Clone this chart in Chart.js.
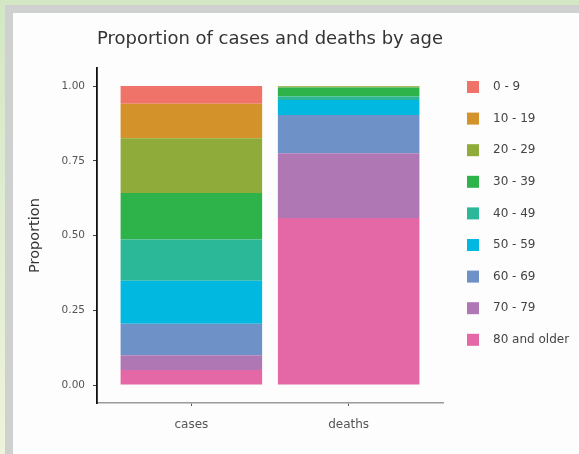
<!DOCTYPE html>
<html>
<head>
<meta charset="utf-8">
<script src="https://cdn.jsdelivr.net/npm/chart.js@4.4.1/dist/chart.umd.min.js"></script>
<style>
  html, body { margin: 0; padding: 0; }
  body {
    width: 579px; height: 454px; overflow: hidden; position: relative;
    background: linear-gradient(to bottom, #d3e7c5, #eef3dc);
  }
  #frame {
    position: absolute; left: 5px; top: 5px; right: 0; bottom: 0;
    border-left: 8px solid #cfd1d0; border-top: 8px solid #cfd1d0;
    background: #fdfdfd;
  }
  #chart { position: absolute; left: 0; top: 0; }
</style>
</head>
<body>
<div id="frame"><canvas id="chart" width="566" height="441"></canvas></div>
<script>
const groups = ['0 - 9', '10 - 19', '20 - 29', '30 - 39', '40 - 49', '50 - 59', '60 - 69', '70 - 79', '80 and older'];
const colors = ['#f0736a', '#d4922a', '#8fab3a', '#2db34a', '#2ab898', '#00b8e0', '#6e92c8', '#b077b5', '#e468a5'];
const categories = ['cases', 'deaths'];
const casesShare = [0.059, 0.116, 0.183, 0.155, 0.138, 0.144, 0.105, 0.05, 0.05];
const deathsShare = [0, 0.001, 0.004, 0.03, 0.012, 0.05, 0.128, 0.216, 0.559];
const yTicks = [0, 0.25, 0.5, 0.75, 1];

const font = '"DejaVu Sans", sans-serif';

// legend drawn beside the plot, in ggplot order (first group on top)
const sideLegend = {
    id: 'sideLegend',
    afterDraw(chart) {
        const ctx = chart.ctx;
        ctx.save();
        ctx.font = '12px ' + font;
        ctx.textBaseline = 'middle';
        groups.forEach((g, i) => {
            const y = 74 + i * 31.6;
            ctx.fillStyle = colors[i];
            ctx.fillRect(454, y - 6, 12, 12);
            ctx.fillStyle = '#444';
            ctx.fillText(g, 480, y);
        });
        ctx.restore();
    }
};

const datasets = groups.map((g, i) => ({
    label: g,
    data: categories.map((c, j) => ({ x: j + 1, y: (j === 0 ? casesShare : deathsShare)[i] })),
    backgroundColor: colors[i],
    borderWidth: 0,
    barPercentage: 0.9,
    categoryPercentage: 1
})).reverse();

const ctx = document.getElementById('chart').getContext('2d');
new Chart(ctx, {
    type: 'bar',
    data: { datasets },
    plugins: [sideLegend],
    options: {
        responsive: false,
        animation: false,
        layout: { padding: { top: 0, right: 136, bottom: 0, left: 0 } },
        plugins: {
            legend: { display: false },
            tooltip: { enabled: false },
            title: {
                display: true,
                text: 'Proportion of cases and deaths by age',
                fullSize: false,
                color: '#333',
                font: { family: font, size: 18.4, weight: 'normal' },
                padding: { top: 15, bottom: 18 }
            }
        },
        scales: {
            x: {
                type: 'linear',
                stacked: true,
                offset: false,
                min: 0.4,
                max: 2.6,
                afterBuildTicks: scale => { scale.ticks = categories.map((c, j) => ({ value: j + 1 })); },
                afterFit: scale => { scale.height = 51; },
                ticks: {
                    callback: v => categories[v - 1],
                    color: '#555',
                    font: { family: font, size: 12 },
                    padding: 12
                },
                grid: { offset: false, drawOnChartArea: false, drawTicks: true, tickLength: 3, color: '#555' },
                border: { display: true, color: '#9a9a9a', width: 1.5 }
            },
            y: {
                stacked: true,
                min: -0.06,
                max: 1.06,
                afterBuildTicks: scale => { scale.ticks = yTicks.map(v => ({ value: v })); },
                afterFit: scale => { scale.width = 84; },
                ticks: {
                    callback: v => v.toFixed(2),
                    color: '#555',
                    font: { family: font, size: 10.5 },
                    padding: 8
                },
                grid: { drawOnChartArea: false, drawTicks: true, tickLength: 4, color: '#444' },
                border: { display: true, color: '#111', width: 1.8 },
                title: {
                    display: true,
                    text: 'Proportion',
                    color: '#333',
                    font: { family: font, size: 14.5 },
                    padding: { top: 13.6, bottom: 0 }
                }
            }
        }
    }
});
</script>
</body>
</html>
